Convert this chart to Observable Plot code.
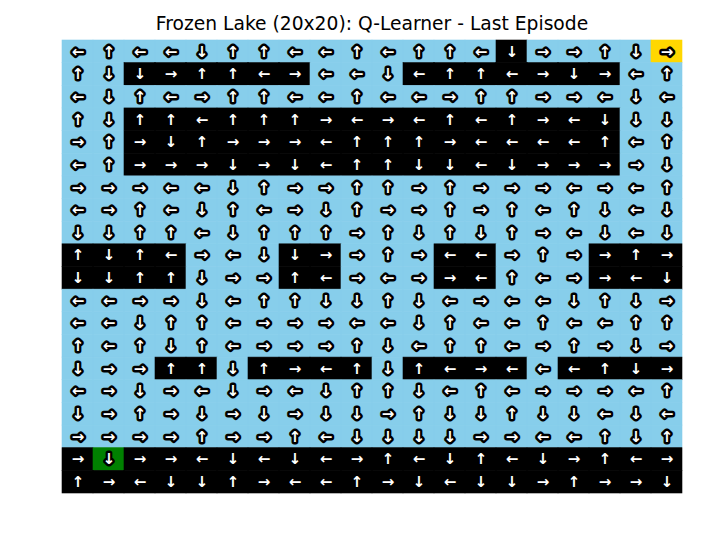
<!DOCTYPE html>
<html>
<head>
<meta charset="utf-8">
<script src="https://cdn.jsdelivr.net/npm/d3@7"></script>
<script src="https://cdn.jsdelivr.net/npm/@observablehq/plot@0.6"></script>
<style>
  html, body { margin: 0; padding: 0; background: #fff; }
  #wrap { position: relative; width: 716px; height: 537px; }
  #title { position: absolute; left: 62px; width: 620px; top: 13px; text-align: center;
           font-family: "DejaVu Sans", sans-serif; font-size: 18.7px; line-height: 22px; color: #000; }
</style>
</head>
<body>
<div id="wrap">
  <div id="title">Frozen Lake (20x20): Q-Learner - Last Episode</div>
  <div id="chart"></div>
</div>
<script>
// Map: F = frozen, H = hole, S = agent/start (green), G = goal (gold)
const lakeMap = [
  "FFFFFFFFFFFFFFHFFFFG",
  "FFHHHHHHFFFHHHHHHHFF",
  "FFFFFFFFFFFFFFFFFFFF",
  "FFHHHHHHHHHHHHHHHHFF",
  "FFHHHHHHHHHHHHHHHHFF",
  "FFHHHHHHHHHHHHHHHHFF",
  "FFFFFFFFFFFFFFFFFFFF",
  "FFFFFFFFFFFFFFFFFFFF",
  "FFFFFFFFFFFFFFFFFFFF",
  "HHHHFFFHHFFFHHFFFHHH",
  "HHHHFFFHHFFFHHFFFHHH",
  "FFFFFFFFFFFFFFFFFFFF",
  "FFFFFFFFFFFFFFFFFFFF",
  "FFFFFFFFFFFFFFFFFFFF",
  "FFFHHFHHHHFHHHHFHHHH",
  "FFFFFFFFFFFFFFFFFFFF",
  "FFFFFFFFFFFFFFFFFFFF",
  "FFFFFFFFFFFFFFFFFFFF",
  "HSHHHHHHHHHHHHHHHHHH",
  "HHHHHHHHHHHHHHHHHHHH"
];
// Policy: L = left, U = up, R = right, D = down
const policy = [
  "LULLDUULLULUULDRRUDR",
  "UDDRUULRLLDLUULRDRLU",
  "LDULRUULLULLRUURRLDL",
  "UDUULUUURLRLULURLDDD",
  "RURDURRRLUUURLLLLULU",
  "LURRRDRDLUUDDLDRRRRD",
  "RRRLLDURRUURURRRLRLU",
  "LRULDULRDURRURULUDLD",
  "DDUULDUUURUDUDURLDLD",
  "UDULRLDDRRURLLRURRUR",
  "DDUUDRRULRLRRLULRRLD",
  "LLRRDLUUDDUDLRLLDUDR",
  "LLDUULRRRLLDULLULLUU",
  "ULUDULRRRUDLUULRURDR",
  "DRRUUDURLUDULRLLLUDR",
  "LRDRLDRLDUUDLULRRRLU",
  "DRURDRDRDDRUDDUDDLDL",
  "RRRRURRULDDDDRRLLUDU",
  "RDRRLDLDLRULDULDRULR",
  "URLDDURLLURDLDDRURRD"
];
const arrowGlyph = {L: "←", U: "↑", R: "→", D: "↓"};
const tileColor = {F: "#87CEEB", H: "#000000", S: "#008000", G: "#FFD700"};

const cells = [];
lakeMap.forEach((row, r) => {
  for (let c = 0; c < row.length; c++) {
    cells.push({row: r, col: c, tile: row[c], action: policy[r][c]});
  }
});
const idx = d3.range(20);

const chart = Plot.plot({
  width: 716,
  height: 537,
  marginLeft: 62,
  marginRight: 34,
  marginTop: 40,
  marginBottom: 44,
  x: {type: "band", domain: idx, padding: 0, round: false, axis: null},
  y: {type: "band", domain: idx, padding: 0, round: false, axis: null},
  style: {background: "white"},
  marks: [
    Plot.cell(cells, {x: "col", y: "row", fill: d => tileColor[d.tile], stroke: d => tileColor[d.tile], strokeWidth: 0.6}),
    Plot.text(cells, {
      x: "col", y: "row", text: d => arrowGlyph[d.action],
      fill: "white", stroke: "black", strokeWidth: 5, paintOrder: "stroke",
      fontFamily: "DejaVu Sans", fontWeight: "bold", fontSize: 15
    })
  ]
});
document.getElementById("chart").appendChild(chart);
</script>
</body>
</html>
